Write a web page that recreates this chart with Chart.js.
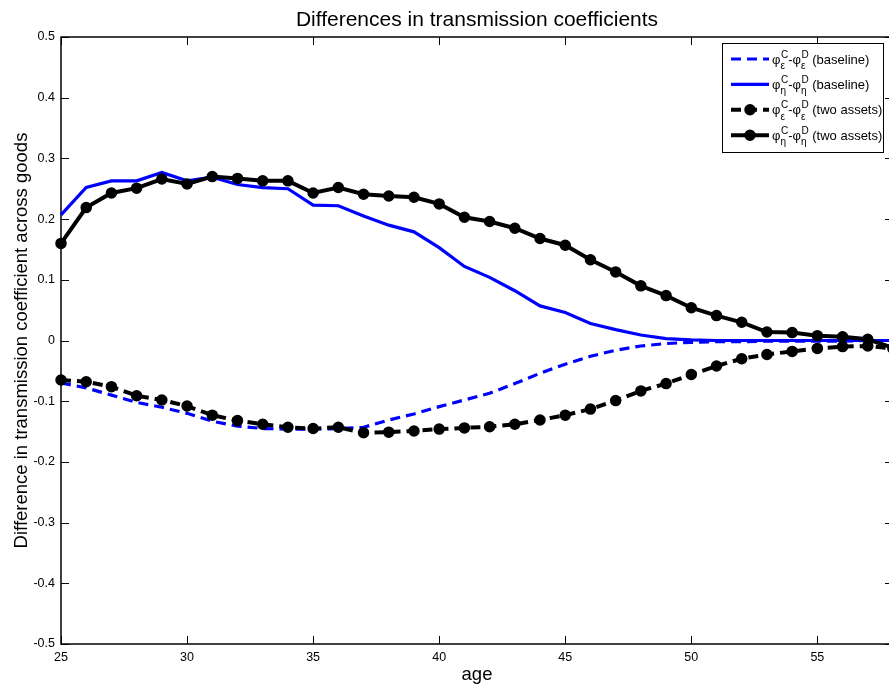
<!DOCTYPE html>
<html>
<head>
<meta charset="utf-8">
<script src="https://cdn.jsdelivr.net/npm/chart.js@4.4.0/dist/chart.umd.min.js"></script>
<style>
  html, body { margin: 0; padding: 0; background: #fff; overflow: hidden; }
  canvas { display: block; }
</style>
</head>
<body>
<canvas id="grafik" width="900" height="686"></canvas>
<script>
const FONT = '"Liberation Sans", Arial, Helvetica, sans-serif';

const ages = [25, 26, 27, 28, 29, 30, 31, 32, 33, 34, 35, 36, 37, 38, 39, 40, 41,
              42, 43, 44, 45, 46, 47, 48, 49, 50, 51, 52, 53, 54, 55, 56, 57, 58];

const baselineEps = [-0.070, -0.078, -0.090, -0.102, -0.110, -0.120, -0.133, -0.141, -0.145, -0.146,
                     -0.146, -0.145, -0.143, -0.131, -0.121, -0.109, -0.098, -0.087, -0.071, -0.054,
                     -0.039, -0.026, -0.016, -0.009, -0.005, -0.003, -0.002, -0.002, -0.001, -0.001,
                     -0.001, -0.001, 0.000, 0.000];

const baselineEta = [0.207, 0.252, 0.263, 0.263, 0.277, 0.263, 0.269, 0.257, 0.252, 0.250,
                     0.223, 0.222, 0.205, 0.190, 0.179, 0.153, 0.122, 0.104, 0.082, 0.057,
                     0.046, 0.028, 0.018, 0.009, 0.003, 0.001, 0.000, 0.000, 0.000, 0.000,
                     0.000, 0.000, 0.000, 0.000];

const twoAssetsEps = [-0.065, -0.068, -0.076, -0.091, -0.098, -0.108, -0.123, -0.132, -0.138, -0.143,
                      -0.145, -0.143, -0.152, -0.151, -0.149, -0.146, -0.144, -0.142, -0.138, -0.131,
                      -0.123, -0.113, -0.099, -0.083, -0.071, -0.056, -0.042, -0.030, -0.023, -0.018,
                      -0.013, -0.010, -0.009, -0.013];

const twoAssetsEta = [0.160, 0.219, 0.243, 0.251, 0.266, 0.258, 0.270, 0.267, 0.263, 0.263,
                      0.243, 0.252, 0.241, 0.238, 0.236, 0.225, 0.203, 0.196, 0.185, 0.168,
                      0.157, 0.133, 0.113, 0.090, 0.074, 0.054, 0.041, 0.030, 0.014, 0.013,
                      0.008, 0.006, 0.002, -0.012];

const xTicks = [25, 30, 35, 40, 45, 50, 55];
const yTicks = [-0.5, -0.4, -0.3, -0.2, -0.1, 0, 0.1, 0.2, 0.3, 0.4, 0.5];

const legendSub = ['\u03b5', '\u03b7', '\u03b5', '\u03b7'];
const legendNote = ['(baseline)', '(baseline)', '(two assets)', '(two assets)'];

const titleText = 'Differences in transmission coefficients';

function points(values) {
    return ages.map((a, i) => ({ x: a, y: values[i] }));
}

// matlab-ish frame: inward ticks on all four sides, box, title and legend
const matlabFrame = {
    id: 'matlabFrame',
    beforeDatasetsDraw(chart) {
        const { ctx, chartArea: a, scales: { x, y } } = chart;
        ctx.save();
        ctx.strokeStyle = '#000';
        ctx.lineWidth = 1;
        ctx.beginPath();
        xTicks.forEach(v => {
            const px = Math.round(x.getPixelForValue(v)) + 0.5;
            ctx.moveTo(px, a.bottom); ctx.lineTo(px, a.bottom - 8);
            ctx.moveTo(px, a.top); ctx.lineTo(px, a.top + 8);
        });
        yTicks.forEach(v => {
            const py = Math.round(y.getPixelForValue(v)) + 0.5;
            ctx.moveTo(a.left, py); ctx.lineTo(a.left + 8, py);
            ctx.moveTo(a.right, py); ctx.lineTo(a.right - 8, py);
        });
        ctx.stroke();
        ctx.lineWidth = 1.5;
        ctx.strokeRect(a.left, a.top, a.right - a.left, a.bottom - a.top);
        ctx.restore();
    },
    afterDraw(chart) {
        const { ctx, chartArea: a } = chart;
        ctx.save();
        ctx.fillStyle = '#000';
        ctx.font = `21px ${FONT}`;
        ctx.textAlign = 'center';
        ctx.textBaseline = 'alphabetic';
        ctx.fillText(titleText, (a.left + a.right) / 2, 26);

        // legend
        ctx.fillStyle = '#fff';
        ctx.fillRect(722.5, 43.5, 161, 109);
        ctx.strokeStyle = '#000';
        ctx.lineWidth = 1;
        ctx.strokeRect(722.5, 43.5, 161, 109);
        ctx.textAlign = 'left';
        chart.data.datasets.forEach((ds, i) => {
            const cy = 59 + i * 25.4;
            ctx.strokeStyle = ds.borderColor;
            ctx.lineWidth = ds.borderWidth;
            ctx.setLineDash(ds.borderDash || []);
            ctx.beginPath();
            ctx.moveTo(731, cy);
            ctx.lineTo(769, cy);
            ctx.stroke();
            ctx.setLineDash([]);
            if (ds.pointRadius > 0) {
                ctx.fillStyle = ds.pointBackgroundColor;
                ctx.lineWidth = ds.pointBorderWidth;
                ctx.beginPath();
                ctx.arc(750, cy, ds.pointRadius, 0, Math.PI * 2);
                ctx.fill();
                ctx.stroke();
            }
            ctx.fillStyle = '#000';
            let tx = 772;
            const big = `13px ${FONT}`;
            const small = `10px ${FONT}`;
            const phi = (sup) => {
                ctx.font = big;
                ctx.fillText('\u03c6', tx, cy + 4.5);
                tx += ctx.measureText('\u03c6').width;
                ctx.font = small;
                ctx.fillText(sup, tx + 0.5, cy - 1.5);
                ctx.fillText(legendSub[i], tx, cy + 10);
                tx += Math.max(ctx.measureText(sup).width, ctx.measureText(legendSub[i]).width) + 0.5;
            };
            phi('C');
            ctx.font = big;
            ctx.fillText('-', tx, cy + 4.5);
            tx += ctx.measureText('-').width;
            phi('D');
            ctx.font = big;
            ctx.fillText(' ' + legendNote[i], tx, cy + 4.5);
        });
        ctx.restore();
    }
};

const datasets = [
    {
        label: 'phi_eps baseline',
        data: points(baselineEps),
        borderColor: '#0000ff',
        borderWidth: 3.2,
        borderDash: [10, 6],
        pointRadius: 0,
        order: 4
    },
    {
        label: 'phi_eta baseline',
        data: points(baselineEta),
        borderColor: '#0000ff',
        borderWidth: 3.2,
        pointRadius: 0,
        order: 3
    },
    {
        label: 'phi_eps two assets',
        data: points(twoAssetsEps),
        borderColor: '#000',
        borderWidth: 4,
        borderDash: [10, 6],
        pointRadius: 5,
        pointBorderWidth: 1.5,
        pointBorderColor: '#000',
        pointBackgroundColor: '#000',
        order: 2
    },
    {
        label: 'phi_eta two assets',
        data: points(twoAssetsEta),
        borderColor: '#000',
        borderWidth: 4,
        pointRadius: 5,
        pointBorderWidth: 1.5,
        pointBorderColor: '#000',
        pointBackgroundColor: '#000',
        order: 1
    }
];

const options = {
    responsive: false,
    animation: false,
    devicePixelRatio: 1,
    layout: { padding: { top: 37, right: 7, left: 0, bottom: 0 } },
    elements: { line: { tension: 0, fill: false } },
    datasets: { line: { clip: false } },
    plugins: {
        legend: { display: false },
        tooltip: { enabled: false },
        title: { display: false }
    },
    scales: {
        x: {
            type: 'linear',
            min: 25,
            max: 58,
            afterBuildTicks: s => { s.ticks = xTicks.map(v => ({ value: v })); },
            afterFit: s => { s.height = 42; },
            grid: { display: false, drawTicks: false },
            border: { display: false },
            ticks: {
                color: '#000',
                font: { family: FONT, size: 12.5 },
                padding: 6,
                maxRotation: 0,
                autoSkip: false
            },
            title: {
                display: true,
                text: 'age',
                color: '#000',
                font: { family: FONT, size: 18.5 },
                padding: { top: 0, bottom: 0 }
            }
        },
        y: {
            type: 'linear',
            min: -0.5,
            max: 0.5,
            afterBuildTicks: s => { s.ticks = yTicks.map(v => ({ value: v })); },
            afterFit: s => { s.width = 61; },
            grid: { display: false, drawTicks: false },
            border: { display: false },
            ticks: {
                color: '#000',
                font: { family: FONT, size: 12.5 },
                padding: 6,
                autoSkip: false,
                callback: v => String(Math.round(v * 10) / 10)
            },
            title: {
                display: true,
                text: 'Difference in transmission coefficient across goods',
                color: '#000',
                font: { family: FONT, size: 18.5 },
                padding: { top: 11, bottom: 0 }
            }
        }
    }
};

const chart = new Chart(document.getElementById('grafik'), {
    type: 'line',
    data: { datasets: datasets },
    options: options,
    plugins: [matlabFrame]
});
</script>
</body>
</html>
